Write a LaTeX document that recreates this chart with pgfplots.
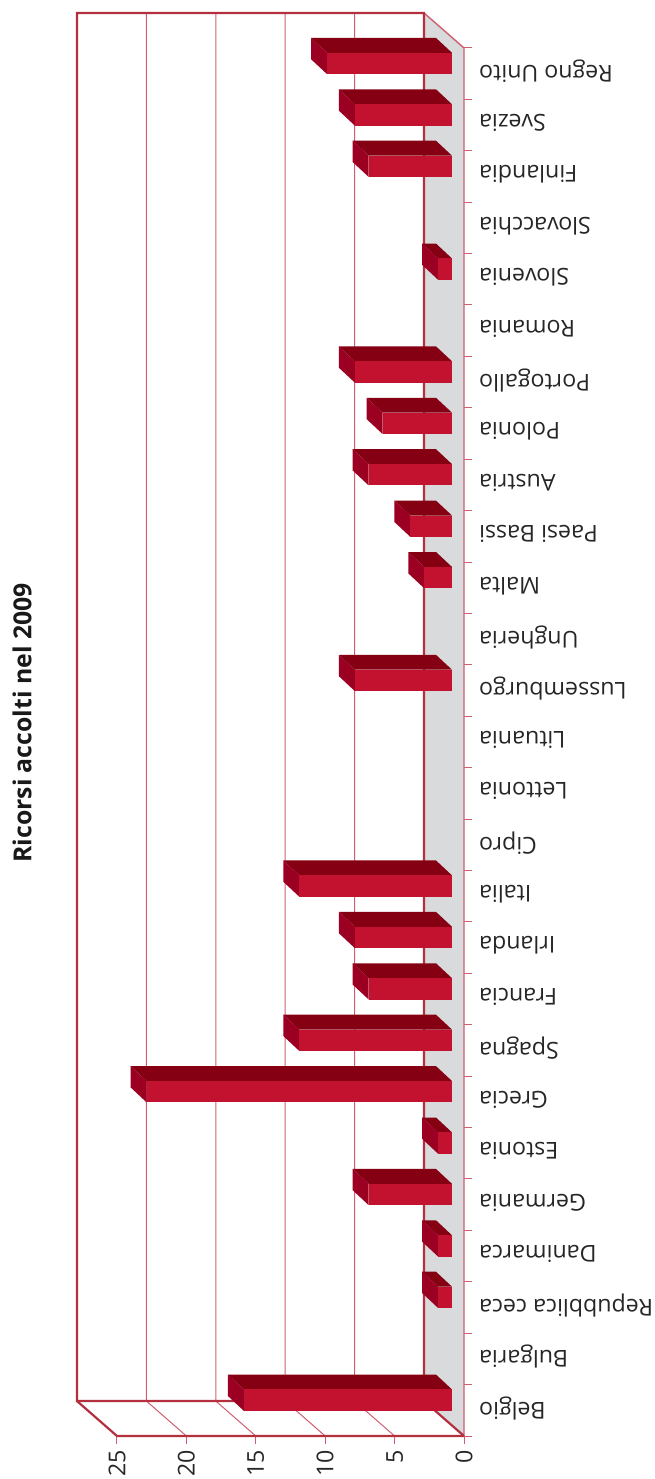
\documentclass[border=0pt]{standalone}
\usepackage{fontspec}
\setmainfont{Open Sans}
\usepackage{pgfplots}
\pgfplotsset{compat=1.18}
\definecolor{thick}{HTML}{B5303F}
\definecolor{thin}{HTML}{CF5F70}
\definecolor{wall}{HTML}{D9DADC}
\definecolor{front}{HTML}{C2122F}
\definecolor{top}{HTML}{850012}
\definecolor{side}{HTML}{9B0022}
% bar i (category index), v (value): three faces through the axis
\newcommand\barf[2]{%
  \pgfmathsetmacro\xa{0.865}%
  \pgfmathsetmacro\xb{0.865+#2}%
  \pgfmathsetmacro\xc{0.865+1.15}%
  \pgfmathsetmacro\xd{0.865+1.15+#2}%
  \pgfmathsetmacro\ya{#1+0.49}%
  \pgfmathsetmacro\yb{#1+0.905}%
  \pgfmathsetmacro\yc{#1+0.49+0.29}%
  \pgfmathsetmacro\yd{#1+0.905+0.29}%
  \addplot[fill=top,draw=none] coordinates {(\xa,\yb) (\xb,\yb) (\xd,\yd) (\xc,\yd)} --cycle;
  \addplot[fill=side,draw=none] coordinates {(\xb,\ya) (\xb,\yb) (\xd,\yd) (\xd,\yc)} --cycle;
  \addplot[fill=front,draw=none] coordinates {(\xa,\ya) (\xb,\ya) (\xb,\yb) (\xa,\yb)} --cycle;
}
\begin{document}
\begin{tikzpicture}[x=1pt,y=1pt]
\path[use as bounding box] (0,0) rectangle (655,1479);
\begin{axis}[
  at={(77pt,43pt)},anchor=south west,
  scale only axis,width=387pt,height=1423pt,
  x dir=reverse,
  xmin=0,xmax=27.88,ymin=0,ymax=27.68,
  clip=false,
  axis line style={draw=none},
  xtick={0,5,10,15,20,25},
  ytick={0,1,...,27},
  yticklabels={},
  xtick pos=lower,ytick pos=upper,
  tick align=outside,
  major tick length=8pt,
  tick style={thin,draw=thin,line width=1pt},
  extra y ticks={0.5,1.5,2.5,3.5,4.5,5.5,6.5,7.5,8.5,9.5,10.5,11.5,12.5,13.5,14.5,15.5,16.5,17.5,18.5,19.5,20.5,21.5,22.5,23.5,24.5,25.5,26.5},
  extra y tick labels={Belgio,Bulgaria,Repubblica ceca,Danimarca,Germania,Estonia,Grecia,Spagna,Francia,Irlanda,Italia,Cipro,Lettonia,Lituania,Lussemburgo,Ungheria,Malta,Paesi Bassi,Austria,Polonia,Portogallo,Romania,Slovenia,Slovacchia,Finlandia,Svezia,Regno Unito},
  extra y tick style={tick style={draw=none},major tick length=0pt},
  tick label style={font=\fontsize{23.2}{23.2}\selectfont,text=black!85},
  /pgf/number format/assume math mode=true,
  xticklabel style={rotate=90,anchor=east,inner sep=0pt,xshift=-6pt,yshift=0pt},
  yticklabel style={rotate=180,anchor=east,inner sep=0pt,xshift=-15pt,yshift=-2pt},
  title={\fontsize{24.8}{24.8}\selectfont\bfseries Ricorsi accolti nel 2009},
  title style={at={(axis description cs:-0.142,0.4969)},rotate=90,anchor=center,text=black!90},
]
% side wall
\addplot[fill=wall,draw=none] coordinates {(0,0) (2.88,0.68) (2.88,27.68) (0,27)} --cycle;
% floor grid and back grid
\addplot[draw=thin,line width=1pt] coordinates {(5,0) (7.88,0.68) (7.88,27.68)};
\addplot[draw=thin,line width=1pt] coordinates {(10,0) (12.88,0.68) (12.88,27.68)};
\addplot[draw=thin,line width=1pt] coordinates {(15,0) (17.88,0.68) (17.88,27.68)};
\addplot[draw=thin,line width=1pt] coordinates {(20,0) (22.88,0.68) (22.88,27.68)};
% edges
\addplot[draw=thin,line width=1.4pt] coordinates {(2.88,27.68) (0,27) (0,0)};
\addplot[draw=thick,line width=2.2pt] coordinates {(0,0) (2.88,0.68) (2.88,27.68) (27.88,27.68) (27.88,0.68) (2.88,0.68)};
\addplot[draw=thick,line width=2.2pt] coordinates {(27.88,0.68) (25,0) (0,0)};
% bars
\barf{0}{15}
\barf{2}{1}
\barf{3}{1}
\barf{4}{6}
\barf{5}{1}
\barf{6}{22}
\barf{7}{11}
\barf{8}{6}
\barf{9}{7}
\barf{10}{11}
\barf{14}{7}
\barf{16}{2}
\barf{17}{3}
\barf{18}{6}
\barf{19}{5}
\barf{20}{7}
\barf{22}{1}
\barf{24}{6}
\barf{25}{7}
\barf{26}{9}
\end{axis}
\end{tikzpicture}
\end{document}
